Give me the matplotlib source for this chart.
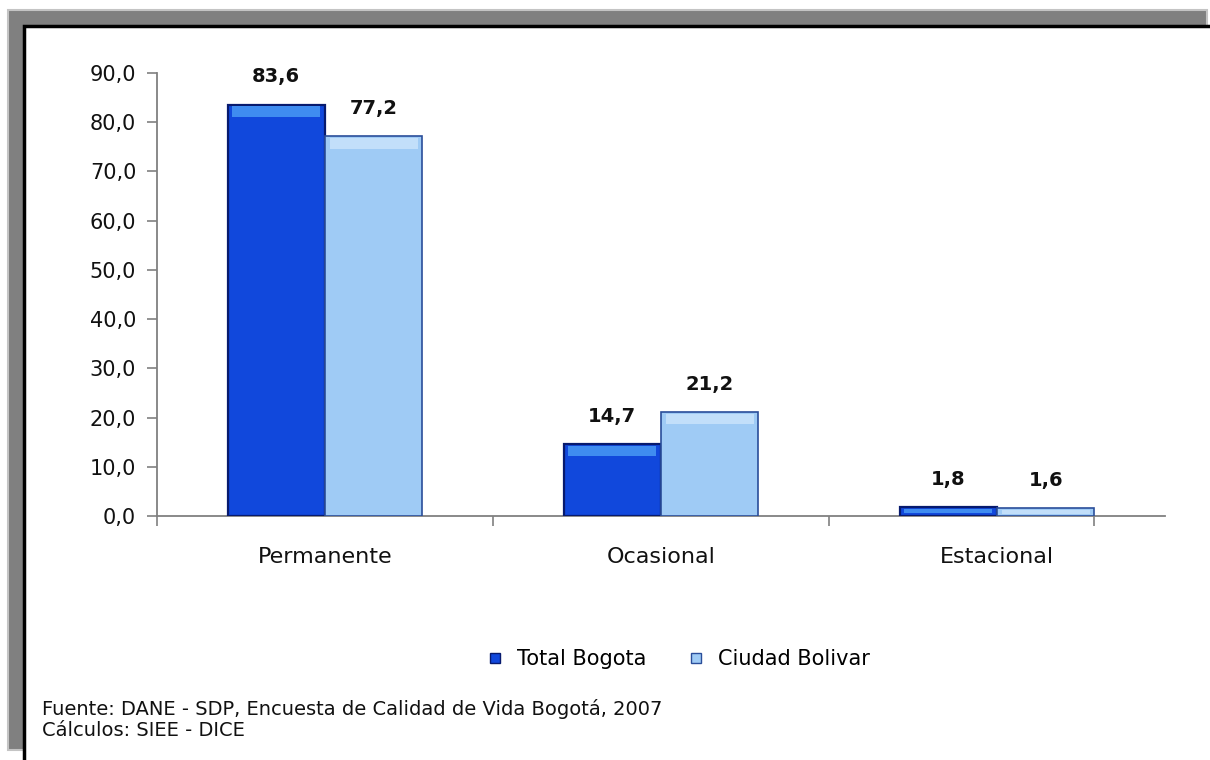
import numpy as np
import matplotlib.pyplot as plt
from matplotlib.patches import Rectangle
from matplotlib.lines import Line2D

categorias = ['Permanente', 'Ocasional', 'Estacional']
total_bogota = [83.6, 14.7, 1.8]
ciudad_bolivar = [77.2, 21.2, 1.6]
series = ['Total Bogota', 'Ciudad Bolivar']
yticks = [0, 10, 20, 30, 40, 50, 60, 70, 80, 90]
fuente = ['Fuente: DANE - SDP, Encuesta de Calidad de Vida Bogotá, 2007',
          'Cálculos: SIEE - DICE']

W, H = 1210, 760
fig = plt.figure(figsize=(W / 100, H / 100), dpi=100)
plt.rcParams['font.family'] = ['DejaVu Sans']

def px(x0, y0, x1, y1):
    # caja en pixeles (origen arriba-izquierda) -> fraccion de figura
    return (x0 / W, 1 - y1 / H), (x1 - x0) / W, (y1 - y0) / H

# marco gris y panel blanco
xy, w, h = px(8, 10, 1207, 750)
fig.patches.append(Rectangle(xy, w, h, transform=fig.transFigure,
                             facecolor='#808080', edgecolor='#c4c4c4', lw=1.5, zorder=0))
xy, w, h = px(24, 26, 1215, 765)
fig.patches.append(Rectangle(xy, w, h, transform=fig.transFigure,
                             facecolor='white', edgecolor='black', lw=2.5, zorder=1))

ax = fig.add_axes([157 / W, 1 - 516 / H, (1165 - 157) / W, (516 - 73) / H])
ax.set_facecolor('none')
ax.set_zorder(2)

x = np.arange(len(categorias))
bw = 0.29
oscuro = '#1148dc'
claro = '#9fcbf5'
b1 = ax.bar(x - bw / 2, total_bogota, bw, color=oscuro, edgecolor='#071a6e', lw=1.6, zorder=3)
b2 = ax.bar(x + bw / 2, ciudad_bolivar, bw, color=claro, edgecolor='#2a4e9a', lw=1.2, zorder=3)

# brillo suave en la parte superior de las barras
tb = np.array(total_bogota)
cb = np.array(ciudad_bolivar)
ax.bar(x - bw / 2, np.minimum(2.2, tb * 0.5), bw * 0.9, bottom=tb - np.minimum(2.6, tb * 0.7),
       color='#3f8cf0', lw=0, zorder=4)
ax.bar(x + bw / 2, np.minimum(2.2, cb * 0.5), bw * 0.9, bottom=cb - np.minimum(2.6, cb * 0.7),
       color='#c2dffa', lw=0, zorder=4)

for bars, vals in ((b1, total_bogota), (b2, ciudad_bolivar)):
    for r, v in zip(bars, vals):
        ax.annotate(f'{v:.1f}'.replace('.', ','), (r.get_x() + r.get_width() / 2, v),
                    xytext=(0, 13), textcoords='offset points', ha='center', va='bottom',
                    fontsize=14, fontweight='bold', color='#111111')

ax.set_xlim(-0.5, 2.5)
ax.set_ylim(0, 90)
ax.set_yticks(yticks)
ax.set_yticklabels([f'{t:.1f}'.replace('.', ',') for t in yticks], fontsize=15, color='#111111')
ax.set_xticks(x)
ax.set_xticklabels(categorias, fontsize=16, color='#111111')
ax.tick_params(axis='x', length=0, pad=22)
ax.set_xticks([-0.5, 0.5, 1.5, 2.29], minor=True)
ax.tick_params(axis='x', which='minor', length=7, color='#808080', width=1.2)
ax.tick_params(axis='y', length=7, color='#808080', width=1.2, pad=8)
for s in ('top', 'right'):
    ax.spines[s].set_visible(False)
for s in ('left', 'bottom'):
    ax.spines[s].set_color('#808080')
    ax.spines[s].set_linewidth(1.3)

handles = [Line2D([], [], marker='s', ls='none', markersize=7, markerfacecolor=oscuro,
                  markeredgecolor='#071a6e'),
           Line2D([], [], marker='s', ls='none', markersize=7, markerfacecolor=claro,
                  markeredgecolor='#2a4e9a')]
fig.legend(handles, series, loc='center', bbox_to_anchor=(672 / W, 1 - 659 / H), ncol=2,
           frameon=False, fontsize=15, handletextpad=0.05, columnspacing=1.4)

fig.text(42 / W, 1 - 709 / H, fuente[0], fontsize=14, va='center', ha='left', color='#111111')
fig.text(42 / W, 1 - 731 / H, fuente[1], fontsize=14, va='center', ha='left', color='#111111')

fig.savefig('out.png', dpi=100)
